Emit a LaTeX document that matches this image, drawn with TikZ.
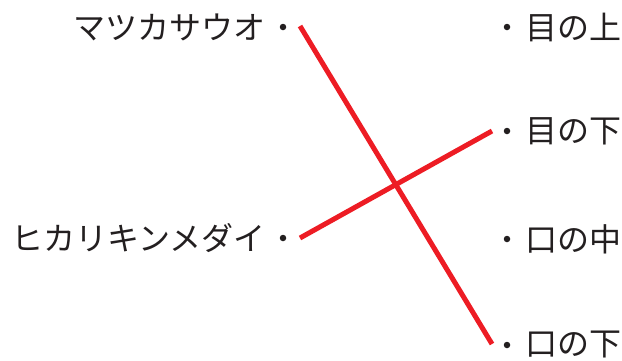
\documentclass[tikz,border=0pt]{standalone}
\usepackage{fontspec}
\newfontfamily\jp{Noto Sans CJK JP}
\definecolor{ink}{HTML}{231F20}
\definecolor{lred}{HTML}{ED1C24}
\begin{document}
\begin{tikzpicture}[x=1pt,y=-1pt,
  lbl/.style={font=\jp\fontsize{32}{38}\selectfont, text=ink, inner sep=0pt},
  pt/.style={circle, fill=ink, inner sep=0pt, minimum size=6.5pt},
  link/.style={draw=lred, line width=5pt}]
\useasboundingbox (0,0) rectangle (622,360);
% left
\node[lbl, anchor=east] (l1) at (266,27) {マツカサウオ};
\node[pt] (d1) at (283,27) {};
\coordinate (c1) at (300,26);
\node[lbl, anchor=east] (l2) at (266,238) {ヒカリキンメダイ};
\node[pt] (d2) at (283,238) {};
\coordinate (c2) at (300,238);
% right
\node[pt] (r1) at (507,27) {};
\node[lbl, anchor=west] (t1) at (525,27) {目の上};
\node[pt] (r2) at (507,131) {};
\node[lbl, anchor=west] (t2) at (525,131) {目の下};
\coordinate (e2) at (492,131);
\node[pt] (r3) at (507,239) {};
\node[lbl, anchor=west] (t3) at (525,239) {口の中};
\node[pt] (r4) at (507,345) {};
\node[lbl, anchor=west] (t4) at (525,345) {口の下};
\coordinate (e4) at (492,344);
% links
\draw[link] (c1) -- (e4);
\draw[link] (c2) -- (e2);
\end{tikzpicture}
\end{document}
